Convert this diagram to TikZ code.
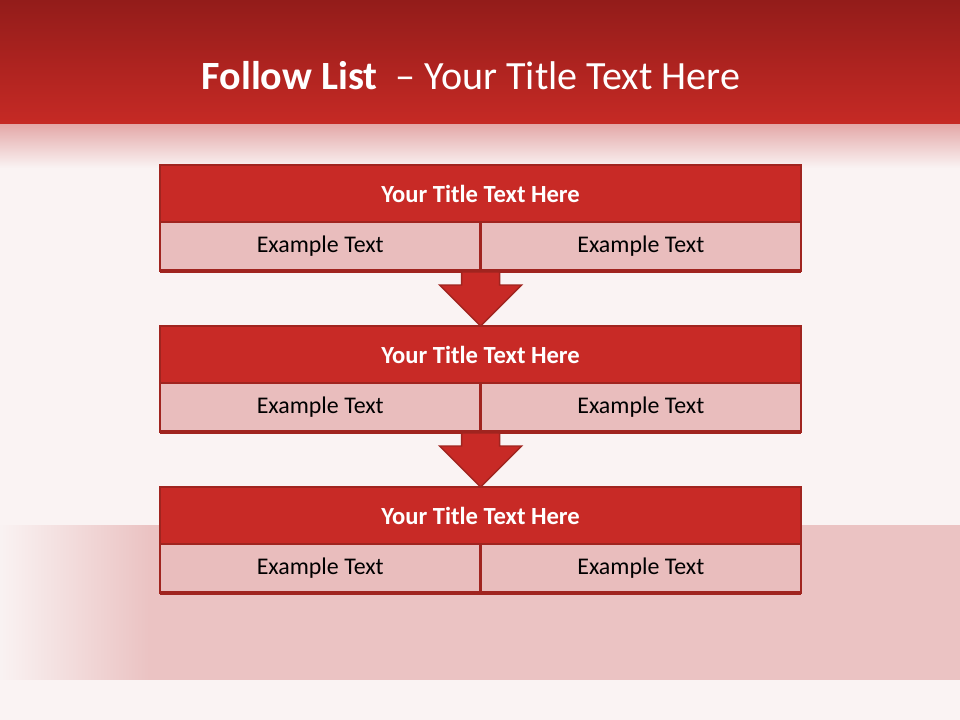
\documentclass[tikz,border=0pt]{standalone}
\usepackage{fontspec}
\setmainfont{Carlito}
\usetikzlibrary{positioning, calc, fadings}
\definecolor{hdtop}{HTML}{931C1A}
\definecolor{hdbot}{HTML}{C62A25}
\definecolor{fadepink}{HTML}{E4AAAA}
\definecolor{pagebg}{HTML}{FAF3F3}
\definecolor{bandpink}{HTML}{EBC3C3}
\definecolor{headred}{HTML}{C82A26}
\definecolor{edgered}{HTML}{A0241F}
\definecolor{cellpink}{HTML}{E9BDBD}

\begin{document}
\begin{tikzpicture}[
    x=0.025cm, y=-0.025cm,
    headrow/.style={draw=edgered, line width=1.6pt, fill=headred, text=white, inner sep=0pt, outer sep=0pt,
        minimum width=16.025cm, minimum height=1.425cm, font=\bfseries\fontsize{17.5}{21}\selectfont},
    cell/.style={draw=edgered, line width=1.6pt, fill=cellpink, text=black, inner sep=0pt, outer sep=0pt,
        minimum width=8.0125cm, minimum height=1.225cm, font=\fontsize{17}{20}\selectfont},
    flowarrow/.style={draw=edgered, line width=1pt, fill=headred, line join=miter}
    ]

    % --- Fondo ---
    \useasboundingbox (0,0) rectangle (960,720);
    \fill[pagebg] (0,0) rectangle (960,720);
    \fill[bandpink] (148,525) rectangle (960,680);
    \fill[bandpink, path fading=west] (0,525) rectangle (150,680);
    \shade[top color=hdtop, bottom color=hdbot] (0,0) rectangle (960,125);
    \shade[top color=fadepink, bottom color=pagebg] (0,125) rectangle (960,168);

    % --- Titulo ---
    \node (title) [text=white, font=\fontsize{28.5}{34}\selectfont] at (471,76)
        {\textbf{Follow List}\ \ – Your Title Text Here};

    % --- Bloques ---
    \foreach \i/\y in {1/165, 2/326, 3/487} {
        \node (h\i) [headrow, anchor=north west] at (160,\y) {Your Title Text Here};
        \node (l\i) [cell, anchor=north west] at (h\i.south west) {Example Text};
        \node (r\i) [cell, anchor=north west] at (l\i.north east) {Example Text};
        \draw[edgered, line width=2.4pt] (l\i.south west) -- (r\i.south east);
    }

    % --- Flechas ---
    \foreach \i/\j in {1/2, 2/3} {
        \coordinate (a\i) at (l\i.south east);
        \draw[flowarrow] ($(a\i)+(-19,1)$) -- ++(0,13) -- ++(-22,0) -- (h\j.north)
            -- ($(a\i)+(41,14)$) -- ++(-22,0) -- ($(a\i)+(19,1)$) -- cycle;
    }

\end{tikzpicture}
\end{document}
